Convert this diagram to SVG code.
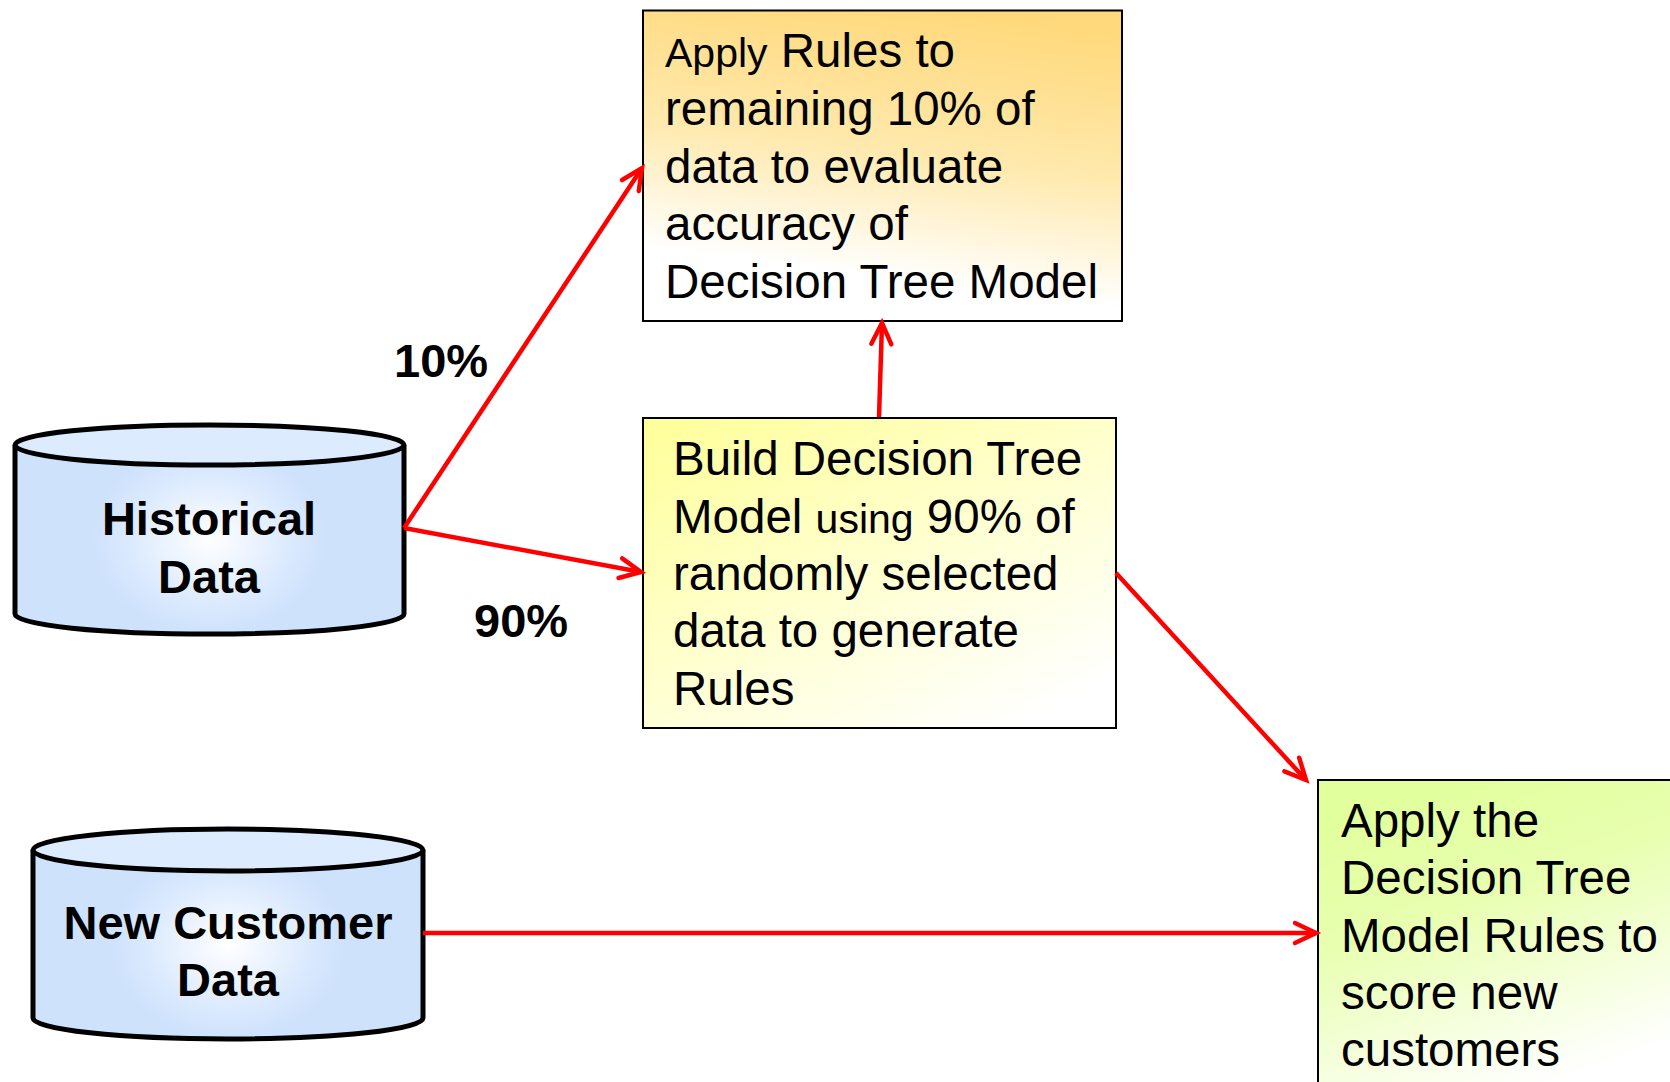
<svg xmlns="http://www.w3.org/2000/svg" width="1670" height="1082" viewBox="0 0 1670 1082">
  <style>
    .box { stroke: #000; stroke-width: 2; }
    .txt { font-family: "Liberation Sans", Arial, sans-serif; font-size: 47.5px; fill: #000; }
    .sm { font-size: 41px; }
    .bold { font-family: "Liberation Sans", Arial, sans-serif; font-size: 47px; font-weight: bold; fill: #000; }
    .cyl { stroke: #000; stroke-width: 5; }
    .conn { stroke: #FF0000; stroke-width: 4.5; fill: none; marker-end: url(#ah); }
  </style>
  <defs>
    <marker id="ah" markerUnits="userSpaceOnUse" viewBox="-26 -14 30 28" markerWidth="30" markerHeight="28" refX="0" refY="0" orient="auto" overflow="visible">
      <path d="M-21,-10 L0,0 L-21,10" fill="none" stroke="#FF0000" stroke-width="4.5" stroke-linecap="round" stroke-linejoin="miter"/>
    </marker>
    <linearGradient id="gOrange" x1="0.6" y1="0" x2="0.4" y2="1">
      <stop offset="0" stop-color="#FFD97C"/>
      <stop offset="0.45" stop-color="#FFE9AD"/>
      <stop offset="0.85" stop-color="#FFFFFF"/>
      <stop offset="1" stop-color="#FFFFFF"/>
    </linearGradient>
    <linearGradient id="gYellow" x1="0" y1="0" x2="0.8" y2="1">
      <stop offset="0" stop-color="#FFFF99"/>
      <stop offset="0.5" stop-color="#FFFFCC"/>
      <stop offset="1" stop-color="#FFFFFF"/>
    </linearGradient>
    <linearGradient id="gGreen" x1="0.3" y1="0" x2="0.7" y2="1">
      <stop offset="0" stop-color="#E1FF9C"/>
      <stop offset="0.35" stop-color="#E8FFB0"/>
      <stop offset="0.9" stop-color="#FFFFFF"/>
    </linearGradient>
    <radialGradient id="gCyl" cx="0.5" cy="0.5" r="0.5" fx="0.5" fy="0.5" gradientTransform="translate(0.5 0.5) scale(0.6 1) translate(-0.5 -0.5)">
      <stop offset="0" stop-color="#FFFFFF"/>
      <stop offset="0.75" stop-color="#D8E8FE"/>
      <stop offset="1" stop-color="#CFE2FC"/>
    </radialGradient>
  </defs>

  <rect width="1670" height="1082" fill="#FFFFFF"/>

  <g id="node-historical">
    <path class="cyl" d="M15,445 L15,614 A194.5,20 0 0 0 404,614 L404,445" fill="url(#gCyl)"/>
    <ellipse class="cyl" cx="209.5" cy="445" rx="194.5" ry="20" fill="#DDEBFE"/>
    <text class="bold" x="209" y="535" text-anchor="middle">Historical</text>
    <text class="bold" x="209" y="593" text-anchor="middle">Data</text>
  </g>

  <g id="node-newcustomer">
    <path class="cyl" d="M33,850 L33,1018 A195,21 0 0 0 423,1018 L423,850" fill="url(#gCyl)"/>
    <ellipse class="cyl" cx="228" cy="850" rx="195" ry="21" fill="#DDEBFE"/>
    <text class="bold" x="228" y="939" text-anchor="middle">New Customer</text>
    <text class="bold" x="228" y="996" text-anchor="middle">Data</text>
  </g>

  <g id="node-evaluate">
    <rect class="box" x="643" y="10.5" width="479" height="310.5" fill="url(#gOrange)"/>
    <text class="txt" x="665" y="67"><tspan class="sm">Apply</tspan> Rules to</text>
    <text class="txt" x="665" y="125">remaining 10% of</text>
    <text class="txt" x="665" y="182.5">data to evaluate</text>
    <text class="txt" x="665" y="240">accuracy of</text>
    <text class="txt" x="665" y="297.5">Decision Tree Model</text>
  </g>

  <g id="node-build">
    <rect class="box" x="643" y="418" width="473" height="310" fill="url(#gYellow)"/>
    <text class="txt" x="673" y="475">Build Decision Tree</text>
    <text class="txt" x="673" y="533">Model <tspan class="sm">using</tspan> 90% of</text>
    <text class="txt" x="673" y="590">randomly selected</text>
    <text class="txt" x="673" y="647">data to generate</text>
    <text class="txt" x="673" y="705">Rules</text>
  </g>

  <g id="node-score">
    <rect class="box" x="1318" y="780" width="380" height="330" fill="url(#gGreen)"/>
    <text class="txt" x="1341" y="837">Apply the</text>
    <text class="txt" x="1341" y="894">Decision Tree</text>
    <text class="txt" x="1341" y="952">Model Rules to</text>
    <text class="txt" x="1341" y="1009">score new</text>
    <text class="txt" x="1341" y="1066">customers</text>
  </g>

  <g id="connectors">
    <line class="conn" x1="404" y1="528" x2="642" y2="168"/>
    <line class="conn" x1="404" y1="528" x2="641" y2="572"/>
    <line class="conn" x1="879" y1="417" x2="882" y2="323"/>
    <line class="conn" x1="1116" y1="573" x2="1306" y2="780"/>
    <line class="conn" x1="423" y1="933" x2="1316" y2="933"/>
    <text class="bold" x="394" y="377">10%</text>
    <text class="bold" x="474" y="637">90%</text>
  </g>
</svg>
